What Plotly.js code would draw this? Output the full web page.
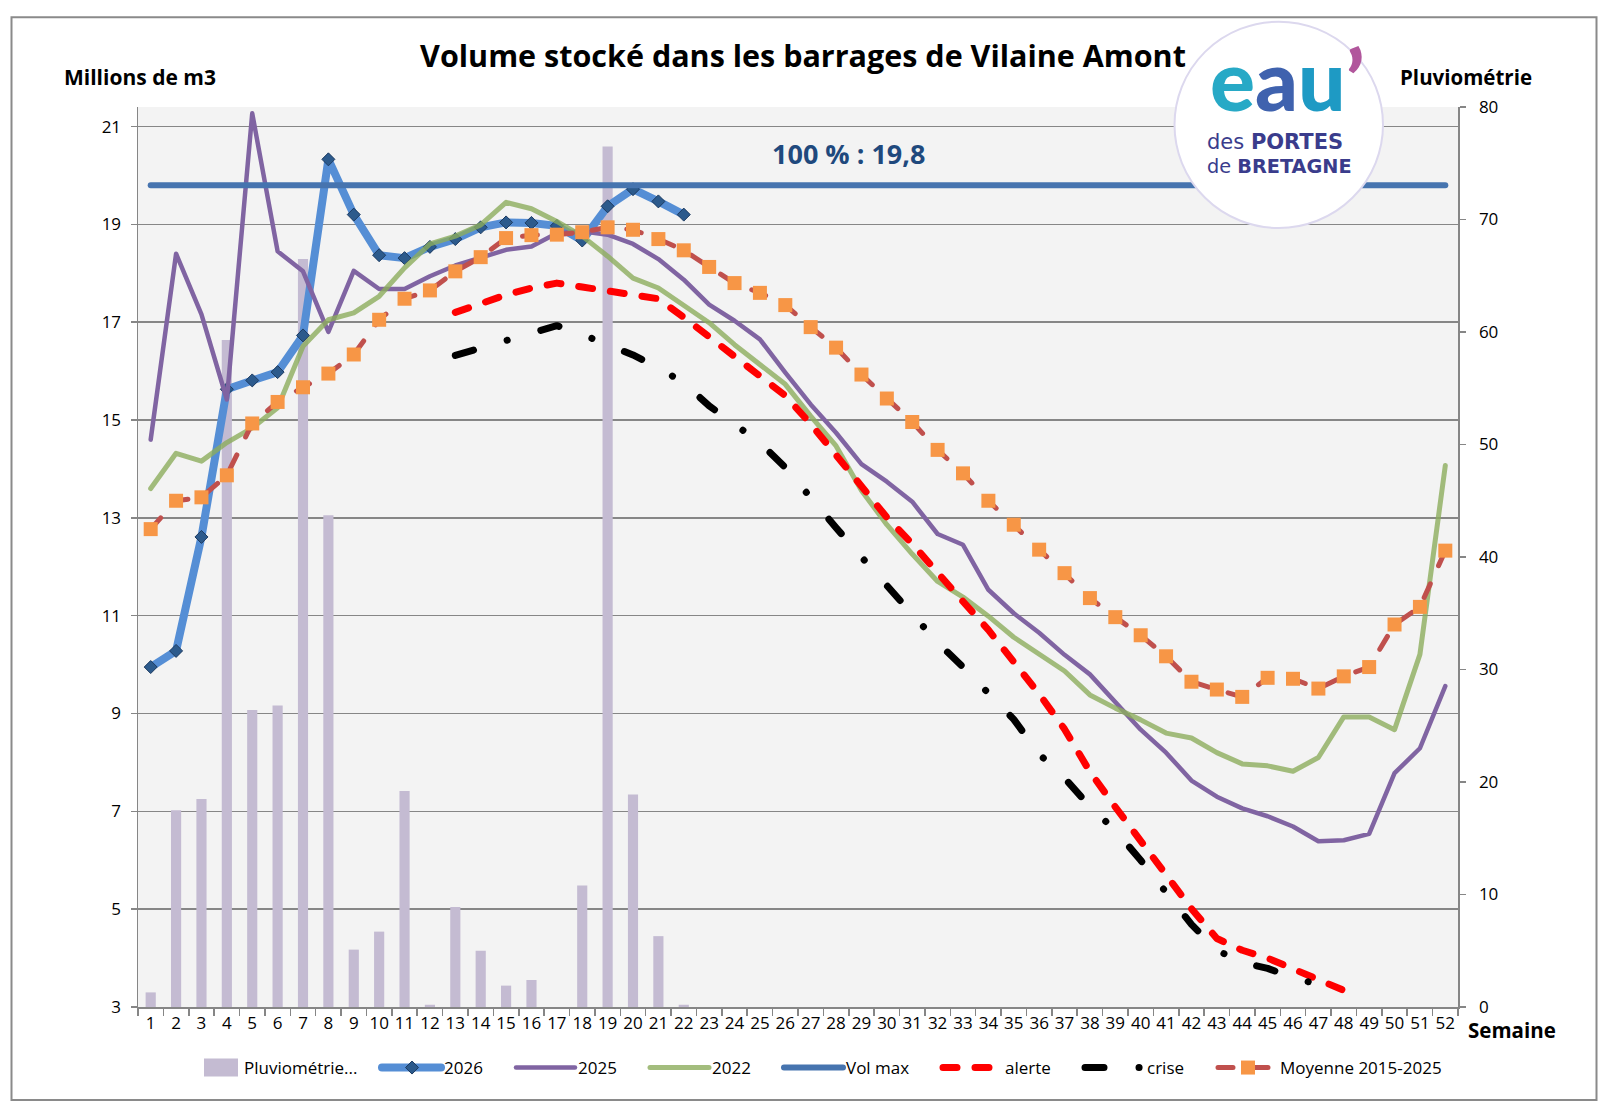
<!DOCTYPE html>
<html lang="fr">
<head>
<meta charset="utf-8">
<script src="https://cdn.plot.ly/plotly-3.0.1.min.js"></script>
<style>
  html, body { margin: 0; padding: 0; background: #ffffff; }
  #chart { width: 1609px; height: 1114px; }
  /* rounded dash ends and joins, as in the office-style chart */
  .scatterlayer .js-line, .legend .js-line { stroke-linecap: round; stroke-linejoin: round; }
  /* wider legend keys, ending just before each label */
  .legend .legendlines path { d: path('M-22,0H37'); }
  .legend .legendpoints path.scatterpts { transform: translate(8px, 0px); }
  .legend .legendpoints path.legendbar,
  .legend .legendpoints path.legendundefined { transform: none; d: path('M-13,-9H34V9H-13Z'); }
</style>
</head>
<body>
<div id="chart"></div>
<script>
// Week labels (x categories)
const weekLabels = ['1','2','3','4','5','6','7','8','9','10','11','12','13','14','15','16','17','18','19','20',
  '21','22','23','24','25','26','27','28','29','30','31','32','33','34','35','36','37','38','39','40',
  '41','42','43','44','45','46','47','48','49','50','51','52'];

// Weekly rainfall (right axis), weeks 1-22
const pluviometrie = [1.3, 17.5, 18.5, 59.3, 26.4, 26.8, 66.5, 43.7, 5.1, 6.7, 19.2, 0.2, 8.9, 5.0, 1.9, 2.4,
  0, 10.8, 76.5, 18.9, 6.3, 0.2];

// Stored volume, millions of m3 (left axis)
const vol2026 = [9.95, 10.28, 12.61, 15.63, 15.81, 15.98, 16.73, 20.33, 19.2, 18.37, 18.31, 18.54, 18.7, 18.94,
  19.04, 19.03, 18.97, 18.67, 19.37, 19.72, 19.47, 19.2];

const vol2025 = [14.6, 18.4, 17.16, 15.42, 21.27, 18.45, 18.04, 16.8, 18.05, 17.68, 17.68, 17.94, 18.16, 18.32,
  18.48, 18.55, 18.82, 18.86, 18.79, 18.6, 18.29, 17.87, 17.36, 17.03, 16.65, 15.97, 15.32, 14.74, 14.1, 13.74,
  13.33, 12.67, 12.45, 11.53, 11.05, 10.65, 10.2, 9.8, 9.25, 8.67, 8.2, 7.63, 7.3, 7.06, 6.9, 6.69, 6.39, 6.41,
  6.54, 7.78, 8.29, 9.56];

const vol2022 = [13.6, 14.32, 14.16, 14.54, 14.84, 15.25, 16.51, 17.05, 17.19, 17.53, 18.11, 18.6, 18.76, 18.99,
  19.45, 19.32, 19.06, 18.76, 18.35, 17.9, 17.7, 17.33, 16.99, 16.54, 16.14, 15.73, 15.08, 14.47, 13.56, 12.86,
  12.26, 11.7, 11.38, 10.99, 10.56, 10.23, 9.87, 9.38, 9.11, 8.87, 8.6, 8.5, 8.2, 7.97, 7.93, 7.82, 8.1, 8.93,
  8.93, 8.67, 10.21, 14.07];

const volMax = 19.8;

// Thresholds, from week 13
const seuilStartWeek = 13;
const alerte = [17.2, 17.39, 17.56, 17.7, 17.8, 17.72, 17.63, 17.56, 17.48, 17.1, 16.7, 16.28, 15.9, 15.5,
  14.92, 14.3, 13.63, 13.01, 12.47, 11.86, 11.29, 10.71, 10.05, 9.4, 8.68, 7.81, 7.09, 6.41, 5.69, 5.01, 4.4,
  4.16, 4.0, 3.79, 3.55, 3.34];
const crise = [16.32, 16.48, 16.63, 16.78, 16.93, 16.75, 16.54, 16.33, 16.07, 15.76, 15.29, 14.93, 14.54, 14.03,
  13.4, 12.8, 12.2, 11.62, 11.07, 10.45, 9.95, 9.43, 8.88, 8.17, 7.68, 7.1, 6.61, 6.0, 5.33, 4.69, 4.16, 3.91,
  3.79, 3.6, 3.46];

const moyenne = [12.77, 13.35, 13.42, 13.87, 14.93, 15.37, 15.67, 15.95, 16.34, 17.05, 17.48, 17.65, 18.04, 18.33,
  18.72, 18.78, 18.79, 18.84, 18.94, 18.89, 18.7, 18.47, 18.13, 17.8, 17.6, 17.35, 16.9, 16.48, 15.93, 15.44,
  14.96, 14.39, 13.91, 13.35, 12.86, 12.35, 11.87, 11.36, 10.97, 10.6, 10.17, 9.65, 9.49, 9.34, 9.73, 9.71,
  9.51, 9.76, 9.95, 10.82, 11.18, 12.33];

const FONT = '"Open Sans", Lato, sans-serif';
const LOGO_FONT = 'Lato, "Open Sans", sans-serif';
const LOGO_TEXT_FONT = '"DejaVu Sans", Lato, sans-serif';
const GRID = '#868686';

const seuilWeeks = (arr) => weekLabels.slice(seuilStartWeek - 1, seuilStartWeek - 1 + arr.length);

const traces = [
  {
    type: 'bar', name: 'Pluviométrie...', x: weekLabels.slice(0, pluviometrie.length), y: pluviometrie,
    yaxis: 'y', width: 0.4, marker: { color: '#C4BBD2', line: { width: 0 } }, legendwidth: 155
  },
  {
    type: 'scatter', mode: 'lines+markers', name: '2026', x: weekLabels.slice(0, vol2026.length), y: vol2026,
    yaxis: 'y2', line: { color: '#558ED5', width: 8 },
    marker: { symbol: 'diamond', size: 10, color: '#2C5A8C', line: { color: '#1C3A60', width: 1 } },
    legendwidth: 89
  },
  {
    type: 'scatter', mode: 'lines', name: '2025', x: weekLabels, y: vol2025, yaxis: 'y2',
    line: { color: '#8064A2', width: 4.5 }, legendwidth: 89
  },
  {
    type: 'scatter', mode: 'lines', name: '2022', x: weekLabels, y: vol2022, yaxis: 'y2',
    line: { color: 'rgba(140,172,92,0.8)', width: 5 }, legendwidth: 89
  },
  {
    type: 'scatter', mode: 'lines', name: 'Vol max', x: weekLabels, y: weekLabels.map(() => volMax), yaxis: 'y2',
    line: { color: '#4674AF', width: 6 }, legendwidth: 114
  },
  {
    type: 'scatter', mode: 'lines', name: 'alerte', x: seuilWeeks(alerte), y: alerte, yaxis: 'y2',
    line: { color: '#FF0000', width: 7, dash: '14px,18px' }, legendwidth: 97
  },
  {
    type: 'scatter', mode: 'lines', name: 'crise', x: seuilWeeks(crise), y: crise, yaxis: 'y2',
    line: { color: '#000000', width: 7, dash: '19px,35px,0.1px,35px' }, legendwidth: 88
  },
  {
    type: 'scatter', mode: 'lines+markers', name: 'Moyenne 2015-2025', x: weekLabels, y: moyenne, yaxis: 'y2',
    line: { color: '#C0504D', width: 5, dash: '15px,20px' },
    marker: { symbol: 'square', size: 14, color: '#F79646' }, legendwidth: 160
  }
];

// paper coordinates helpers (plot area: 138..1458 px wide, 107..1007 px high)
const px = (v) => (v - 138) / 1320;
const py = (v) => (1007 - v) / 900;

const layout = {
  width: 1609, height: 1114,
  margin: { l: 138, r: 151, t: 107, b: 107 },
  paper_bgcolor: '#ffffff',
  plot_bgcolor: '#F3F3F3',
  font: { family: FONT, size: 17, color: '#000000' },
  hovermode: false,
  title: {
    text: 'Volume stocké dans les barrages de Vilaine Amont',
    x: 803 / 1609, xanchor: 'center', y: 1 - 56 / 1114, yanchor: 'middle',
    font: { family: FONT, size: 30.5, weight: 700, color: '#000000' }
  },
  xaxis: {
    type: 'category', tickson: 'boundaries', tickmode: 'linear', dtick: 1, tickangle: 0,
    ticks: 'outside', ticklen: 7, tickwidth: 1.5, tickcolor: GRID,
    showline: true, linecolor: GRID, linewidth: 1.5, showgrid: false, zeroline: false,
    range: [-0.5, 51.5], tickfont: { size: 17 }
  },
  yaxis: {
    side: 'right', range: [0, 80], tickmode: 'linear', tick0: 0, dtick: 10,
    ticks: 'outside', ticklen: 6, tickwidth: 1.5, tickcolor: GRID,
    showline: true, linecolor: GRID, linewidth: 1.5, showgrid: false, zeroline: false,
    tickfont: { size: 17 }, ticklabelstandoff: 10
  },
  yaxis2: {
    overlaying: 'y', side: 'left', range: [3, 21.4], tickmode: 'linear', tick0: 3, dtick: 2,
    ticks: 'outside', ticklen: 6, tickwidth: 1.5, tickcolor: GRID,
    showline: true, linecolor: GRID, linewidth: 1.5,
    showgrid: true, gridcolor: GRID, gridwidth: 1.5, zeroline: false,
    tickfont: { size: 17 }, ticklabelstandoff: 6
  },
  showlegend: true,
  legend: {
    orientation: 'h', xref: 'container', yref: 'container',
    x: 204 / 1609, xanchor: 'left', y: 1 - 1068 / 1114, yanchor: 'middle',
    font: { family: FONT, size: 17 }, bgcolor: 'rgba(0,0,0,0)', traceorder: 'normal'
  },
  shapes: [
    { type: 'rect', xref: 'paper', yref: 'paper', x0: px(11.5), x1: px(1596.5), y0: py(1100), y1: py(17.3),
      line: { color: '#8A8A8A', width: 2 }, fillcolor: 'rgba(0,0,0,0)', layer: 'above' },
    { type: 'circle', xref: 'paper', yref: 'paper', x0: px(1174.5), x1: px(1383), y0: py(228), y1: py(21.7),
      line: { color: '#DCD8EE', width: 2 }, fillcolor: '#ffffff', layer: 'above' }
  ],
  annotations: [
    { text: 'Millions de m3', xref: 'paper', yref: 'paper', x: px(62), xanchor: 'left', y: py(77), yanchor: 'middle',
      showarrow: false, font: { family: FONT, size: 21, weight: 700, color: '#000' } },
    { text: 'Pluviométrie', xref: 'paper', yref: 'paper', x: px(1398), xanchor: 'left', y: py(77), yanchor: 'middle',
      showarrow: false, font: { family: FONT, size: 20.5, weight: 700, color: '#000' } },
    { text: 'Semaine', xref: 'paper', yref: 'paper', x: px(1466), xanchor: 'left', y: py(1030), yanchor: 'middle',
      showarrow: false, font: { family: FONT, size: 20.5, weight: 700, color: '#000' } },
    { text: '100 % : ' + String(volMax).replace('.', ','), xref: 'paper', yref: 'paper', x: px(848), xanchor: 'center',
      y: py(153), yanchor: 'middle', showarrow: false,
      font: { family: FONT, size: 27, weight: 700, color: '#1F497D' } },
    // logo
    { text: '<span style="color:#27A9C6">e</span><span style="color:#3F62AE">a</span>' +
            '<span style="color:#1E9AC4">u</span><span style="color:#B1569C">’</span>',
      xref: 'paper', yref: 'paper', x: px(1208), xanchor: 'left', y: py(78), yanchor: 'middle',
      showarrow: false, font: { family: LOGO_FONT, size: 84, weight: 900 } },
    { text: 'des <b>PORTES</b>', xref: 'paper', yref: 'paper', x: px(1205), xanchor: 'left', y: py(141.5),
      yanchor: 'middle', showarrow: false, font: { family: LOGO_TEXT_FONT, size: 21, color: '#3A3C8C' } },
    { text: 'de <b>BRETAGNE</b>', xref: 'paper', yref: 'paper', x: px(1205), xanchor: 'left', y: py(166),
      yanchor: 'middle', showarrow: false, font: { family: LOGO_TEXT_FONT, size: 19.3, color: '#3A3C8C' } }
  ]
};

Plotly.newPlot('chart', traces, layout, { displayModeBar: false, staticPlot: true });
</script>
</body>
</html>
